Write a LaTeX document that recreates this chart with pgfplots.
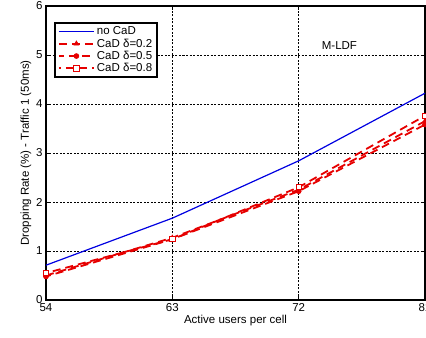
\documentclass[border=0pt]{standalone}
\usepackage{fontspec}
\setmainfont{Liberation Sans}
\usepackage{pgfplots}
\pgfplotsset{compat=1.18}
\definecolor{myblue}{RGB}{0,0,225}
\definecolor{myred}{RGB}{230,0,0}
\begin{document}
\begin{tikzpicture}
\begin{axis}[
  name=ax,
  scale only axis,
  width=379pt, height=294pt,
  xmin=54, xmax=81, ymin=0, ymax=6,
  xtick={54,63,72,81}, ytick={0,1,2,3,4,5,6},
  /pgf/number format/assume math mode=true,
  tick label style={font=\fontsize{11.5}{13}\selectfont},
  label style={font=\fontsize{11.5}{13}\selectfont},
  xlabel={Active users per cell},
  ylabel={Dropping Rate (\%) - Traffic 1 (50ms)},
  xlabel style={yshift=3pt},
  ylabel style={yshift=-2pt},
  axis line style={line width=1.2pt},
  tick align=inside,
  major tick length=4pt,
  tick style={black, line width=0.7pt},
  grid=major,
  major grid style={black, line width=0.7pt, dash pattern=on 2pt off 1.5pt},
  legend style={at={(0.021,0.946)}, anchor=north west, draw=black, line width=1.8pt,
    font=\fontsize{11.5}{13}\selectfont, inner xsep=3pt, inner ysep=2pt, row sep=-1.5pt,
    cells={anchor=west}},
  legend cell align=left,
  legend image code/.code={\draw[mark repeat=2,mark phase=2,#1] plot coordinates {(0cm,0cm) (0.62cm,0cm) (1.24cm,0cm)};},
]
\addplot[myblue, line width=1.2pt, mark=none] coordinates {(54,0.71) (63,1.67) (72,2.84) (81,4.22)};
\addlegendentry{no CaD}
\addplot[myred, line width=1.8pt, dash pattern=on 8pt off 5pt, mark=triangle*, mark size=2.6pt, mark options={solid, line width=0.8pt}]
  coordinates {(54,0.50) (63,1.27) (72,2.25) (81,3.65)};
\addlegendentry{CaD δ=0.2}
\addplot[myred, line width=1.8pt, dash pattern=on 8pt off 5pt, dash phase=3pt, mark=*, mark size=2.4pt, mark options={solid, line width=0.8pt}]
  coordinates {(54,0.48) (63,1.24) (72,2.22) (81,3.58)};
\addlegendentry{CaD δ=0.5}
\addplot[myred, line width=1.8pt, dash pattern=on 8pt off 5pt, dash phase=6pt, mark=square*, mark size=2.6pt, mark options={solid, fill=white, line width=0.8pt}]
  coordinates {(54,0.55) (63,1.24) (72,2.30) (81,3.76)};
\addlegendentry{CaD δ=0.8}
\node[anchor=west, font=\fontsize{11.5}{13}\selectfont] at (axis cs:73.4,5.2) {M-LDF};
\end{axis}
\pgfresetboundingbox
\path[use as bounding box] ([shift={(-46pt,-38pt)}]ax.south west) rectangle ([shift={(1pt,6pt)}]ax.north east);
\end{tikzpicture}
\end{document}
